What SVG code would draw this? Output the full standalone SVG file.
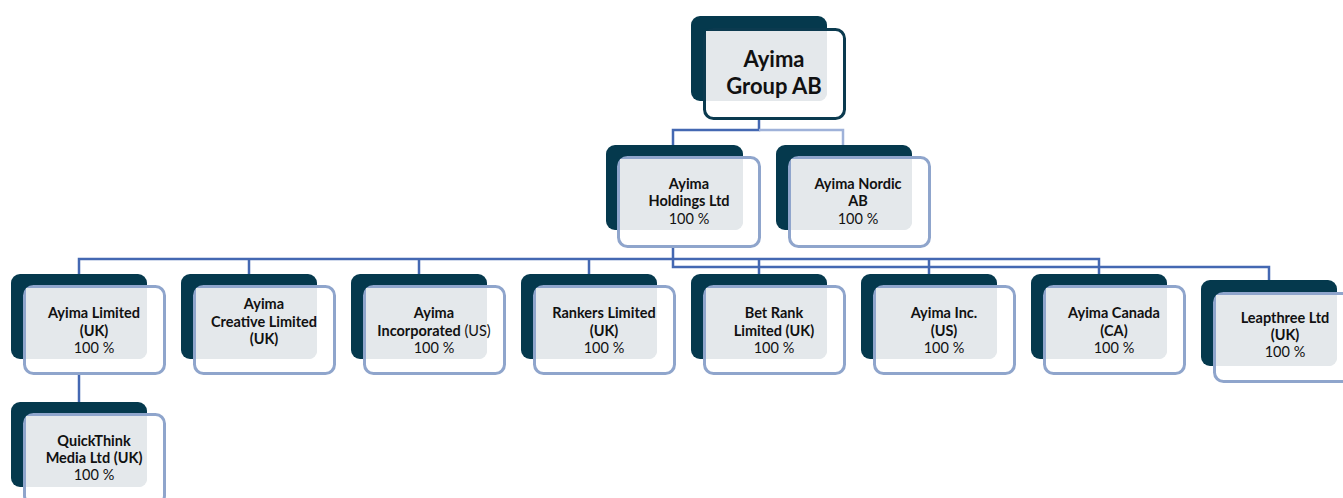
<svg xmlns="http://www.w3.org/2000/svg" width="1343" height="498" viewBox="0 0 1343 498">
<style>
.back{fill:#05394d}
.front{fill:#ffffff;fill-opacity:0.85;stroke:#8fa5cc;stroke-width:3}
.fronttop{fill:#ffffff;fill-opacity:0.85;stroke:#0b3a4f;stroke-width:3}
.gray{fill:#e4e8eb}
.c{fill:none;stroke:#4468b2;stroke-width:2.5}
.cl{fill:none;stroke:#9fb2d9;stroke-width:2.5}
text{font-family:Lato,"Liberation Sans",sans-serif;fill:#111;text-anchor:middle}
.b{font-weight:bold;font-size:14.5px}
.r{font-size:14.5px}
.t{font-weight:bold;font-size:22px}
</style>
<g id="connectors">
<path class="c" d="M759 118 V130 H673 V145"/>
<path class="cl" d="M759 130 H843 V145"/>
<path class="c" d="M79 274 V259 H1099 V274"/>
<path class="c" d="M249 259 V274 M419 259 V274 M589 259 V274 M759 259 V274 M929 259 V274"/>
<path class="c" d="M673 246 V267 H1269 V281"/>
<path class="c" d="M79 374 V402"/>
</g>
<g id="n-group">
<rect class="back" x="691" y="16" width="136" height="85" rx="9"/>
<rect class="fronttop" x="704.5" y="29.5" width="140" height="89" rx="9"/>
<path class="gray" d="M706 31 H827 V93 a8 8 0 0 1 -8 8 H706 Z"/>
<text class="t" x="774" y="67">Ayima</text>
<text class="t" x="774" y="94">Group AB</text>
</g>
<g id="n-holdings">
<rect class="back" x="606" y="145" width="137" height="85" rx="9"/>
<rect class="front" x="618.5" y="157.5" width="141" height="89" rx="9"/>
<path class="gray" d="M620 159 H743 V222 a8 8 0 0 1 -8 8 H620 Z"/>
<text class="b" x="689" y="189">Ayima</text>
<text class="b" x="689" y="206">Holdings Ltd</text>
<text class="r" x="689" y="224">100 %</text>
</g>
<g id="n-nordic">
<rect class="back" x="776" y="145" width="136" height="85" rx="9"/>
<rect class="front" x="789.5" y="157.5" width="140" height="89" rx="9"/>
<path class="gray" d="M791 159 H912 V222 a8 8 0 0 1 -8 8 H791 Z"/>
<text class="b" x="858" y="189">Ayima Nordic</text>
<text class="b" x="858" y="206">AB</text>
<text class="r" x="858" y="224">100 %</text>
</g>
<g id="n-limited">
<rect class="back" x="11" y="274" width="136" height="85" rx="9"/>
<rect class="front" x="24.5" y="286.5" width="140" height="87" rx="9"/>
<path class="gray" d="M26 288 H147 V351 a8 8 0 0 1 -8 8 H26 Z"/>
<text class="b" x="94" y="318">Ayima Limited</text>
<text class="b" x="94" y="336">(UK)</text>
<text class="r" x="94" y="353">100 %</text>
</g>
<g id="n-creative">
<rect class="back" x="181" y="274" width="136" height="85" rx="9"/>
<rect class="front" x="194.5" y="286.5" width="140" height="87" rx="9"/>
<path class="gray" d="M196 288 H317 V351 a8 8 0 0 1 -8 8 H196 Z"/>
<text class="b" x="264" y="309">Ayima</text>
<text class="b" x="264" y="327">Creative Limited</text>
<text class="b" x="264" y="344">(UK)</text>
</g>
<g id="n-incorporated">
<rect class="back" x="351" y="274" width="136" height="85" rx="9"/>
<rect class="front" x="364.5" y="286.5" width="140" height="87" rx="9"/>
<path class="gray" d="M366 288 H487 V351 a8 8 0 0 1 -8 8 H366 Z"/>
<text class="b" x="434" y="318">Ayima</text>
<text x="434" y="336"><tspan class="b">Incorporated</tspan><tspan class="r"> (US)</tspan></text>
<text class="r" x="434" y="353">100 %</text>
</g>
<g id="n-rankers">
<rect class="back" x="521" y="274" width="136" height="85" rx="9"/>
<rect class="front" x="534.5" y="286.5" width="140" height="87" rx="9"/>
<path class="gray" d="M536 288 H657 V351 a8 8 0 0 1 -8 8 H536 Z"/>
<text class="b" x="604" y="318">Rankers Limited</text>
<text class="b" x="604" y="336">(UK)</text>
<text class="r" x="604" y="353">100 %</text>
</g>
<g id="n-betrank">
<rect class="back" x="691" y="274" width="136" height="85" rx="9"/>
<rect class="front" x="704.5" y="286.5" width="140" height="87" rx="9"/>
<path class="gray" d="M706 288 H827 V351 a8 8 0 0 1 -8 8 H706 Z"/>
<text class="b" x="774" y="318">Bet Rank</text>
<text class="b" x="774" y="336">Limited (UK)</text>
<text class="r" x="774" y="353">100 %</text>
</g>
<g id="n-inc">
<rect class="back" x="861" y="274" width="136" height="85" rx="9"/>
<rect class="front" x="874.5" y="286.5" width="140" height="87" rx="9"/>
<path class="gray" d="M876 288 H997 V351 a8 8 0 0 1 -8 8 H876 Z"/>
<text class="b" x="944" y="318">Ayima Inc.</text>
<text class="b" x="944" y="336">(US)</text>
<text class="r" x="944" y="353">100 %</text>
</g>
<g id="n-canada">
<rect class="back" x="1031" y="274" width="136" height="85" rx="9"/>
<rect class="front" x="1044.5" y="286.5" width="140" height="87" rx="9"/>
<path class="gray" d="M1046 288 H1167 V351 a8 8 0 0 1 -8 8 H1046 Z"/>
<text class="b" x="1114" y="318">Ayima Canada</text>
<text class="b" x="1114" y="336">(CA)</text>
<text class="r" x="1114" y="353">100 %</text>
</g>
<g id="n-leapthree">
<rect class="back" x="1201" y="280" width="136" height="86" rx="9"/>
<rect class="front" x="1214.5" y="293.5" width="140" height="88" rx="9"/>
<path class="gray" d="M1216 295 H1337 V358 a8 8 0 0 1 -8 8 H1216 Z"/>
<text class="b" x="1285" y="323">Leapthree Ltd</text>
<text class="b" x="1285" y="340">(UK)</text>
<text class="r" x="1285" y="357">100 %</text>
</g>
<g id="n-quickthink">
<rect class="back" x="11" y="402" width="136" height="85" rx="9"/>
<rect class="front" x="24.5" y="414.5" width="140" height="90" rx="9"/>
<path class="gray" d="M26 416 H147 V479 a8 8 0 0 1 -8 8 H26 Z"/>
<text class="b" x="94" y="446">QuickThink</text>
<text class="b" x="94" y="463">Media Ltd (UK)</text>
<text class="r" x="94" y="480">100 %</text>
</g>
</svg>
